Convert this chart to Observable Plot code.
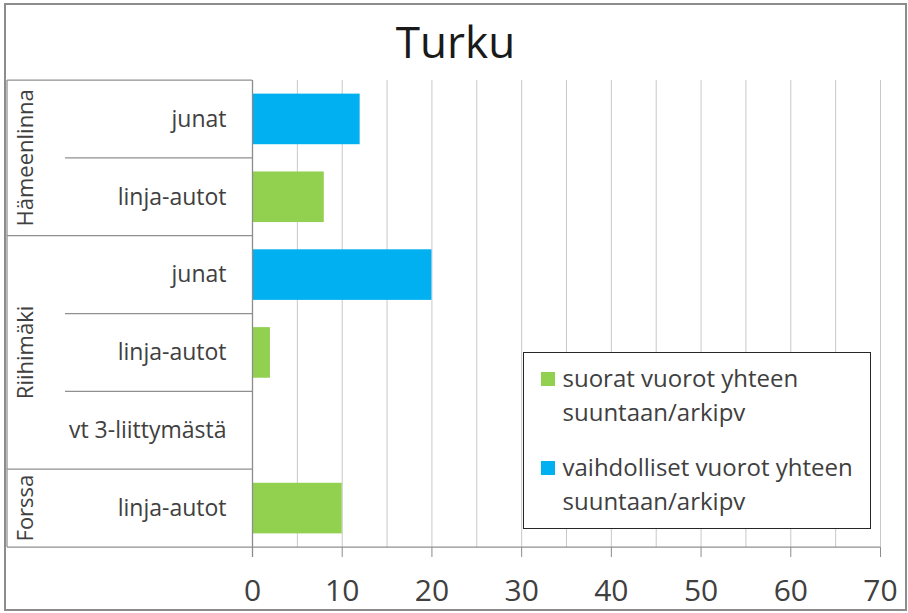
<!DOCTYPE html>
<html><head><meta charset="utf-8">
<script src="https://cdn.jsdelivr.net/npm/d3@7"></script>
<script src="https://cdn.jsdelivr.net/npm/@observablehq/plot@0.6"></script>
<style>
html,body{margin:0;padding:0;background:#fff;}
#wrap{position:relative;width:908px;height:613px;font-family:"Open Sans",sans-serif;overflow:hidden;background:#fff;}
#chart{position:absolute;left:0;top:0;}
#title{position:absolute;left:0;width:911px;top:11px;text-align:center;font-size:44px;line-height:60px;color:#1a1a1a;}
#legend{position:absolute;left:523px;top:352px;width:348px;height:177px;box-sizing:border-box;border:1.5px solid #262626;background:#fff;}
.item{position:absolute;left:38.5px;width:308px;font-size:24px;line-height:34px;color:#404040;}
.sw{position:absolute;left:16.5px;width:14px;height:14px;}
#frame{position:absolute;left:4px;top:3px;width:903px;height:608px;box-sizing:border-box;border:2px solid #8c8c8c;pointer-events:none;}
</style>
</head><body>
<div id="wrap">
  <div id="chart"></div>
  <div id="title"></div>
  <div id="legend"></div>
  <div id="frame"></div>
</div>
<script>
// ---- data ----
const chartTitle = "Turku";
const groups = ["Hämeenlinna", "Hämeenlinna", "Riihimäki", "Riihimäki", "Riihimäki", "Forssa"];
const modes = ["junat", "linja-autot", "junat", "linja-autot", "vt 3-liittymästä", "linja-autot"];
const suorat = [0, 8, 0, 2, 0, 10];
const vaihdolliset = [12, 0, 20, 0, 0, 0];
const seriesNames = ["suorat vuorot yhteen suuntaan/arkipv", "vaihdolliset vuorot yhteen suuntaan/arkipv"];
const seriesColors = ["#92d050", "#00b0f0"];
const xTicks = [0, 10, 20, 30, 40, 50, 60, 70];
const gridTicks = [0, 5, 10, 15, 20, 25, 30, 35, 40, 45, 50, 55, 60, 65, 70];

// ---- tables ----
const rows = modes.map((m, i) => ({key: i, group: groups[i], mode: m}));
const long = [];
rows.forEach((r, i) => {
  if (suorat[i] > 0) long.push({key: i, series: seriesNames[0], value: suorat[i]});
  if (vaihdolliset[i] > 0) long.push({key: i, series: seriesNames[1], value: vaihdolliset[i]});
});

const plot = Plot.plot({
  width: 908,
  height: 613,
  marginLeft: 252,
  marginRight: 28,
  marginTop: 80,
  marginBottom: 66,
  style: {fontFamily: "'Open Sans', sans-serif", fontSize: "22px", color: "#404040", background: "transparent", overflow: "visible"},
  x: {domain: [xTicks[0], xTicks[xTicks.length - 1]]},
  y: {domain: rows.map(r => r.key), axis: null, paddingInner: 0.35, paddingOuter: 0.175, round: false},
  color: {domain: seriesNames, range: seriesColors},
  marks: [
    Plot.gridX(gridTicks, {stroke: "#c8c8c8", strokeOpacity: 1}),
    Plot.barX(long, {y: "key", x: "value", fill: "series"}),
    Plot.ruleX([0], {stroke: "#8c8c8c", strokeWidth: 1.3, insetBottom: -10}),
    Plot.axisX({ticks: xTicks, tickSize: 10, tickPadding: 22, fontSize: 30, stroke: "#8c8c8c", fill: "#404040", label: null}),
    Plot.text(rows, {y: "key", text: "mode", frameAnchor: "left", textAnchor: "end", dx: -26, fontSize: 23, fill: "#404040"})
  ]
});
document.getElementById("chart").appendChild(plot);

// ---- category table drawn from the library's scales ----
const ys = plot.scale("y");
const xs = plot.scale("x");
const step = ys.step || (ys.range[1] - ys.range[0]) / rows.length;
const bw = ys.bandwidth || step * 0.65;
const rowTop = k => ys.apply(k) - (step - bw) / 2;
const x0 = xs.apply(xTicks[0]);
const xEnd = xs.apply(xTicks[xTicks.length - 1]);
const tableLeft = 7, subLeft = 65;
const svg = d3.select(plot);
const g = svg.append("g").attr("stroke", "#8f8f8f").attr("stroke-width", 1.25);
rows.forEach((r, i) => {
  const y = rowTop(r.key);
  const newGroup = i === 0 || groups[i - 1] !== r.group;
  g.append("line").attr("x1", newGroup ? tableLeft : subLeft).attr("x2", x0).attr("y1", y).attr("y2", y);
});
const yBottom = rowTop(rows[rows.length - 1].key) + step;
g.append("line").attr("x1", tableLeft).attr("x2", xEnd).attr("y1", yBottom).attr("y2", yBottom);
g.append("line").attr("x1", tableLeft).attr("x2", tableLeft).attr("y1", rowTop(rows[0].key)).attr("y2", yBottom);

const groupNames = [...new Set(groups)];
groupNames.forEach(name => {
  const idx = rows.filter(r => r.group === name);
  const yc = (rowTop(idx[0].key) + rowTop(idx[idx.length - 1].key) + step) / 2;
  svg.append("text")
    .attr("transform", `translate(33,${yc}) rotate(-90)`)
    .attr("text-anchor", "middle")
    .attr("font-size", 22)
    .attr("fill", "#404040")
    .text(name);
});

// ---- title & legend ----
document.getElementById("title").textContent = chartTitle;
const legend = document.getElementById("legend");
const itemTops = [8.2, 97.2];
seriesNames.forEach((name, i) => {
  const sw = document.createElement("div");
  sw.className = "sw";
  sw.style.top = (itemTops[i] + 10.3) + "px";
  sw.style.background = seriesColors[i];
  legend.appendChild(sw);
  const t = document.createElement("div");
  t.className = "item";
  t.style.top = itemTops[i] + "px";
  t.textContent = name;
  legend.appendChild(t);
});
</script>
</body></html>
